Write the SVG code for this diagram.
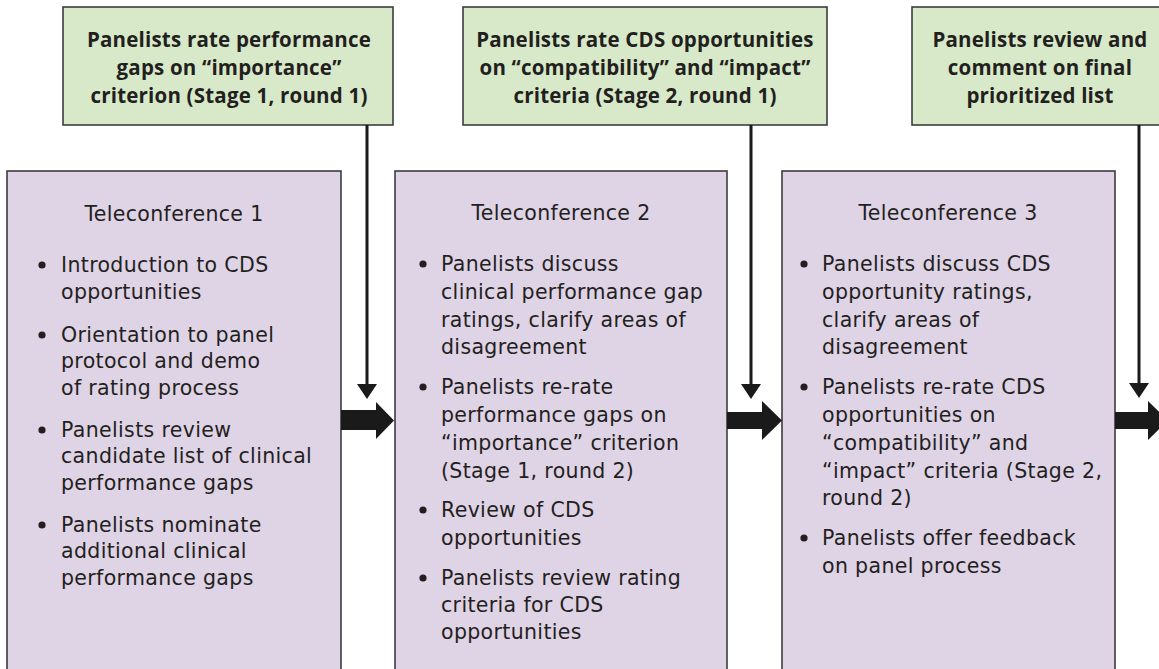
<svg xmlns="http://www.w3.org/2000/svg" width="1159" height="669" viewBox="0 0 1159 669">
<style>
.green{fill:#d7e9c8;stroke:#3c3c3c;stroke-width:1.6}
.purple{fill:#dfd3e6;stroke:#3c3c3c;stroke-width:1.6}
.gt{font-family:"Open Sans",sans-serif;font-weight:bold;font-size:20.5px;letter-spacing:0.2px;fill:#231f20;text-anchor:middle}
.hd{font-family:"DejaVu Sans",sans-serif;font-size:20.5px;letter-spacing:0.35px;fill:#231f20;text-anchor:middle}
.bt{font-family:"DejaVu Sans",sans-serif;font-size:20.5px;letter-spacing:0.35px;fill:#231f20}
.dot{fill:#231f20}
.vl{stroke:#1a1a1a;stroke-width:3;fill:none}
.ah{fill:#1a1a1a}
</style>
<rect width="1159" height="669" fill="#ffffff"/>

<g id="stage1">
<rect class="green" x="63" y="7" width="330" height="118"/>
<text class="gt" x="229" y="47">Panelists rate performance</text>
<text class="gt" x="229" y="75">gaps on “importance”</text>
<text class="gt" x="229" y="103">criterion (Stage 1, round 1)</text>
</g>

<g id="stage2">
<rect class="green" x="463" y="7" width="364" height="118"/>
<text class="gt" x="645" y="47">Panelists rate CDS opportunities</text>
<text class="gt" x="645" y="75">on “compatibility” and “impact”</text>
<text class="gt" x="645" y="103">criteria (Stage 2, round 1)</text>
</g>

<g id="final">
<rect class="green" x="912" y="7" width="260" height="118"/>
<text class="gt" x="1040" y="47">Panelists review and</text>
<text class="gt" x="1040" y="75">comment on final</text>
<text class="gt" x="1040" y="103">prioritized list</text>
</g>

<g id="tele1">
<rect class="purple" x="7" y="171" width="334" height="510"/>
<text class="hd" x="174" y="221">Teleconference 1</text>
<circle class="dot" cx="42" cy="265" r="3.6"/>
<text class="bt" x="61" y="272">Introduction to CDS</text>
<text class="bt" x="61" y="299">opportunities</text>
<circle class="dot" cx="42" cy="335" r="3.6"/>
<text class="bt" x="61" y="342">Orientation to panel</text>
<text class="bt" x="61" y="368">protocol and demo</text>
<text class="bt" x="61" y="395">of rating process</text>
<circle class="dot" cx="42" cy="430" r="3.6"/>
<text class="bt" x="61" y="437">Panelists review</text>
<text class="bt" x="61" y="463">candidate list of clinical</text>
<text class="bt" x="61" y="490">performance gaps</text>
<circle class="dot" cx="42" cy="525" r="3.6"/>
<text class="bt" x="61" y="532">Panelists nominate</text>
<text class="bt" x="61" y="558">additional clinical</text>
<text class="bt" x="61" y="585">performance gaps</text>
</g>

<g id="tele2">
<rect class="purple" x="395" y="171" width="332" height="510"/>
<text class="hd" x="561" y="220">Teleconference 2</text>
<circle class="dot" cx="423" cy="264" r="3.6"/>
<text class="bt" x="441" y="271">Panelists discuss</text>
<text class="bt" x="441" y="299">clinical performance gap</text>
<text class="bt" x="441" y="327">ratings, clarify areas of</text>
<text class="bt" x="441" y="354">disagreement</text>
<circle class="dot" cx="423" cy="387" r="3.6"/>
<text class="bt" x="441" y="394">Panelists re-rate</text>
<text class="bt" x="441" y="422">performance gaps on</text>
<text class="bt" x="441" y="450">“importance” criterion</text>
<text class="bt" x="441" y="478">(Stage 1, round 2)</text>
<circle class="dot" cx="423" cy="510" r="3.6"/>
<text class="bt" x="441" y="517">Review of CDS</text>
<text class="bt" x="441" y="545">opportunities</text>
<circle class="dot" cx="423" cy="578" r="3.6"/>
<text class="bt" x="441" y="585">Panelists review rating</text>
<text class="bt" x="441" y="612">criteria for CDS</text>
<text class="bt" x="441" y="639">opportunities</text>
</g>

<g id="tele3">
<rect class="purple" x="782" y="171" width="333" height="510"/>
<text class="hd" x="948" y="220">Teleconference 3</text>
<circle class="dot" cx="804" cy="264" r="3.6"/>
<text class="bt" x="822" y="271">Panelists discuss CDS</text>
<text class="bt" x="822" y="299">opportunity ratings,</text>
<text class="bt" x="822" y="327">clarify areas of</text>
<text class="bt" x="822" y="354">disagreement</text>
<circle class="dot" cx="804" cy="387" r="3.6"/>
<text class="bt" x="822" y="394">Panelists re-rate CDS</text>
<text class="bt" x="822" y="422">opportunities on</text>
<text class="bt" x="822" y="450">“compatibility” and</text>
<text class="bt" x="822" y="478">“impact” criteria (Stage 2,</text>
<text class="bt" x="822" y="505">round 2)</text>
<circle class="dot" cx="804" cy="538" r="3.6"/>
<text class="bt" x="822" y="545">Panelists offer feedback</text>
<text class="bt" x="822" y="573">on panel process</text>
</g>

<g id="connectors">
<line class="vl" x1="367" y1="125" x2="367" y2="386"/>
<polygon class="ah" points="357,384 377,384 367,399"/>
<line class="vl" x1="751" y1="125" x2="751" y2="386"/>
<polygon class="ah" points="741,384 761,384 751,399"/>
<line class="vl" x1="1139" y1="125" x2="1139" y2="385"/>
<polygon class="ah" points="1129,383 1149,383 1139,398"/>
<polygon class="ah" points="341,410 376,410 376,402 394,420.5 376,439 376,430 341,430"/>
<polygon class="ah" points="727,412 762,412 762,401 782,420.5 762,440 762,429 727,429"/>
<polygon class="ah" points="1115,412 1148,412 1148,401 1168,420.5 1148,440 1148,429 1115,429"/>
</g>
</svg>
